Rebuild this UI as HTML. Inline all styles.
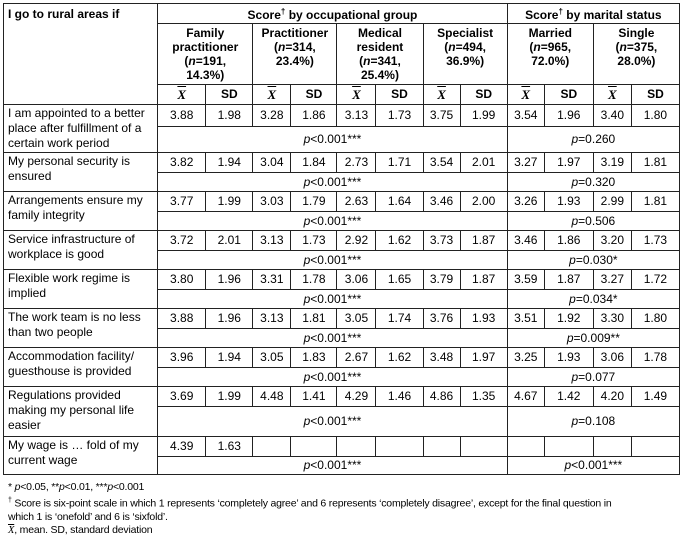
<!DOCTYPE html>
<html><head><meta charset="utf-8"><style>
body{margin:0;background:#fff;font-family:"Liberation Sans",Arial,sans-serif;color:#000;}
table{position:absolute;left:3px;top:3px;border-collapse:collapse;table-layout:fixed;width:677px;font-size:12px;}
td{border:1px solid #222;padding:0 3px;text-align:center;vertical-align:middle;line-height:15px;overflow:hidden;white-space:nowrap;}
td.l{text-align:left;vertical-align:top;white-space:normal;line-height:15px;padding:1px 4px;}
.b{font-weight:bold}
td.h{font-weight:bold;vertical-align:top;padding-top:2px;line-height:14px}
.x{font-family:"Liberation Serif",serif;font-style:italic;font-weight:bold;text-decoration:overline;font-size:13px}
i{font-style:italic}
.f{position:absolute;left:8px;top:481px;font-size:10.5px;line-height:13px;letter-spacing:-0.2px}
</style></head><body>
<table>
<colgroup><col style="width:154px"><col style="width:48px"><col style="width:47px"><col style="width:38px"><col style="width:46px"><col style="width:39px"><col style="width:47px"><col style="width:37px"><col style="width:47px"><col style="width:37px"><col style="width:49px"><col style="width:38px"><col style="width:48px"></colgroup>
<tr style="height:20px"><td class="l b" rowspan="3" style="padding-top:3px">I go to rural areas if</td><td colspan="8" class="b">Score<sup style="font-size:8px">†</sup> by occupational group</td><td colspan="4" class="b">Score<sup style="font-size:8px">†</sup> by marital status</td></tr>
<tr style="height:61px"><td colspan="2" class="h">Family<br>practitioner<br>(<i>n</i>=191,<br>14.3%)</td><td colspan="2" class="h">Practitioner<br>(<i>n</i>=314,<br>23.4%)</td><td colspan="2" class="h">Medical<br>resident<br>(<i>n</i>=341,<br>25.4%)</td><td colspan="2" class="h">Specialist<br>(<i>n</i>=494,<br>36.9%)</td><td colspan="2" class="h">Married<br>(<i>n</i>=965,<br>72.0%)</td><td colspan="2" class="h">Single<br>(<i>n</i>=375,<br>28.0%)</td></tr>
<tr style="height:20px"><td><span class="x">X</span></td><td class="b">SD</td><td><span class="x">X</span></td><td class="b">SD</td><td><span class="x">X</span></td><td class="b">SD</td><td><span class="x">X</span></td><td class="b">SD</td><td><span class="x">X</span></td><td class="b">SD</td><td><span class="x">X</span></td><td class="b">SD</td></tr>

<tr style="height:21px"><td class="l" rowspan="2">I am appointed to a better place after fulfillment of a certain work period</td><td>3.88</td><td>1.98</td><td>3.28</td><td>1.86</td><td>3.13</td><td>1.73</td><td>3.75</td><td>1.99</td><td>3.54</td><td>1.96</td><td>3.40</td><td>1.80</td></tr>
<tr style="height:24px"><td colspan="8"><i>p</i>&lt;0.001***</td><td colspan="4"><i>p</i>=0.260</td></tr>

<tr style="height:20px"><td class="l" rowspan="2">My personal security is ensured</td><td>3.82</td><td>1.94</td><td>3.04</td><td>1.84</td><td>2.73</td><td>1.71</td><td>3.54</td><td>2.01</td><td>3.27</td><td>1.97</td><td>3.19</td><td>1.81</td></tr>
<tr style="height:19px"><td colspan="8"><i>p</i>&lt;0.001***</td><td colspan="4"><i>p</i>=0.320</td></tr>

<tr style="height:20px"><td class="l" rowspan="2">Arrangements ensure my family integrity</td><td>3.77</td><td>1.99</td><td>3.03</td><td>1.79</td><td>2.63</td><td>1.64</td><td>3.46</td><td>2.00</td><td>3.26</td><td>1.93</td><td>2.99</td><td>1.81</td></tr>
<tr style="height:19px"><td colspan="8"><i>p</i>&lt;0.001***</td><td colspan="4"><i>p</i>=0.506</td></tr>

<tr style="height:20px"><td class="l" rowspan="2">Service infrastructure of workplace is good</td><td>3.72</td><td>2.01</td><td>3.13</td><td>1.73</td><td>2.92</td><td>1.62</td><td>3.73</td><td>1.87</td><td>3.46</td><td>1.86</td><td>3.20</td><td>1.73</td></tr>
<tr style="height:19px"><td colspan="8"><i>p</i>&lt;0.001***</td><td colspan="4"><i>p</i>=0.030*</td></tr>

<tr style="height:20px"><td class="l" rowspan="2">Flexible work regime is implied</td><td>3.80</td><td>1.96</td><td>3.31</td><td>1.78</td><td>3.06</td><td>1.65</td><td>3.79</td><td>1.87</td><td>3.59</td><td>1.87</td><td>3.27</td><td>1.72</td></tr>
<tr style="height:19px"><td colspan="8"><i>p</i>&lt;0.001***</td><td colspan="4"><i>p</i>=0.034*</td></tr>

<tr style="height:20px"><td class="l" rowspan="2">The work team is no less than two people</td><td>3.88</td><td>1.96</td><td>3.13</td><td>1.81</td><td>3.05</td><td>1.74</td><td>3.76</td><td>1.93</td><td>3.51</td><td>1.92</td><td>3.30</td><td>1.80</td></tr>
<tr style="height:19px"><td colspan="8"><i>p</i>&lt;0.001***</td><td colspan="4"><i>p</i>=0.009**</td></tr>

<tr style="height:20px"><td class="l" rowspan="2">Accommodation facility/ guesthouse is provided</td><td>3.96</td><td>1.94</td><td>3.05</td><td>1.83</td><td>2.67</td><td>1.62</td><td>3.48</td><td>1.97</td><td>3.25</td><td>1.93</td><td>3.06</td><td>1.78</td></tr>
<tr style="height:19px"><td colspan="8"><i>p</i>&lt;0.001***</td><td colspan="4"><i>p</i>=0.077</td></tr>

<tr style="height:20px"><td class="l" rowspan="2">Regulations provided making my personal life easier</td><td>3.69</td><td>1.99</td><td>4.48</td><td>1.41</td><td>4.29</td><td>1.46</td><td>4.86</td><td>1.35</td><td>4.67</td><td>1.42</td><td>4.20</td><td>1.49</td></tr>
<tr style="height:30px"><td colspan="8"><i>p</i>&lt;0.001***</td><td colspan="4"><i>p</i>=0.108</td></tr>

<tr style="height:20px"><td class="l" rowspan="2">My wage is … fold of my current wage</td><td>4.39</td><td>1.63</td><td></td><td></td><td></td><td></td><td></td><td></td><td></td><td></td><td></td><td></td></tr>
<tr style="height:18px"><td colspan="8"><i>p</i>&lt;0.001***</td><td colspan="4"><i>p</i>&lt;0.001***</td></tr>
</table>
<div class="f">* <i>p</i>&lt;0.05, **<i>p</i>&lt;0.01, ***<i>p</i>&lt;0.001<br>
<sup style="font-size:7px">†</sup> Score is six-point scale in which 1 represents ‘completely agree’ and 6 represents ‘completely disagree’, except for the final question in<br>which 1 is ‘onefold’ and 6 is ‘sixfold’.<br>
<span style="font-family:'Liberation Serif',serif;font-style:italic;text-decoration:overline">X</span>, mean. SD, standard deviation</div>
</body></html>
